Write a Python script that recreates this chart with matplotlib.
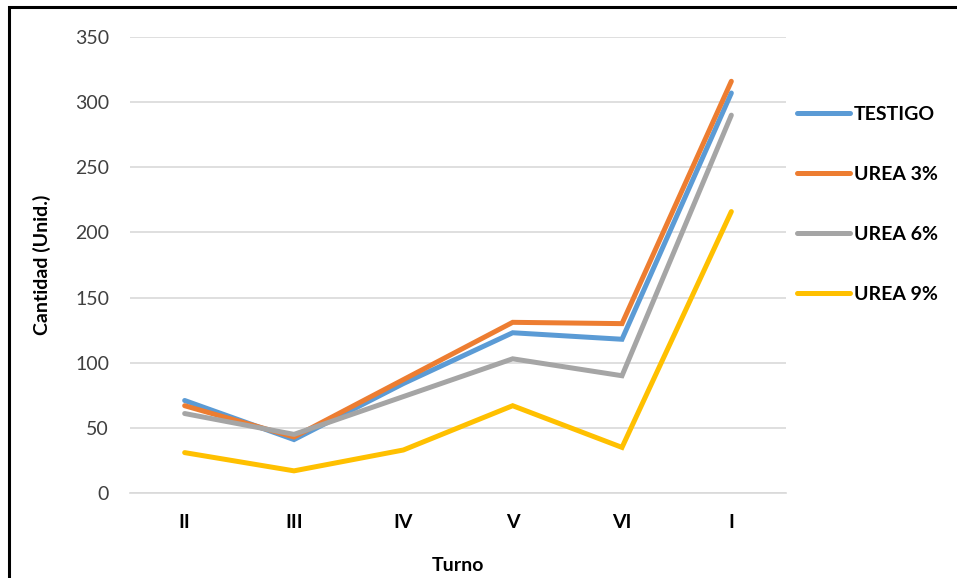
import matplotlib.pyplot as plt
from matplotlib.patches import Rectangle

plt.rcParams['font.family'] = ['Lato', 'DejaVu Sans']

turnos = ["II", "III", "IV", "V", "VI", "I"]
testigo = [71, 41, 84, 123, 118, 307]
urea_3 = [67, 43, 87, 131, 130, 316]
urea_6 = [61, 45, 74, 103, 90, 290]
urea_9 = [31, 17, 33, 67, 35, 216]

series = [
    ("TESTIGO", testigo, "#5B9BD5"),
    ("UREA 3%", urea_3, "#ED7D31"),
    ("UREA 6%", urea_6, "#A5A5A5"),
    ("UREA 9%", urea_9, "#FFC000"),
]

fig = plt.figure(figsize=(9.57, 5.78), dpi=100)
ax = fig.add_axes([130 / 957, 1 - 493 / 578, 656 / 957, 456 / 578])

x = list(range(len(turnos)))
for name, vals, color in series:
    ax.plot(x, vals, color=color, lw=3.6, label=name,
            solid_capstyle="round", solid_joinstyle="miter")

ax.set_xlim(-0.5, len(turnos) - 0.5)
ax.set_ylim(0, 350)
ax.set_yticks(range(0, 351, 50))
ax.set_xticks(x)
ax.set_xticklabels(turnos, fontweight="bold")
ax.tick_params(axis="both", length=0, labelsize=14, colors="#000000")
ax.tick_params(axis="x", pad=15)
ax.tick_params(axis="y", pad=15)
for lbl in ax.get_yticklabels():
    lbl.set_color("#404040")

ax.grid(axis="y", color="#D9D9D9", lw=1.2)
ax.set_axisbelow(True)
for s in ["top", "right", "left"]:
    ax.spines[s].set_visible(False)
ax.spines["bottom"].set_color("#D9D9D9")
ax.spines["bottom"].set_linewidth(1.2)

ax.set_xlabel("Turno", fontsize=14, fontweight="bold", labelpad=19)
ax.set_ylabel("Cantidad (Unid.)", fontsize=14, fontweight="bold", labelpad=17)

leg = fig.legend(loc="upper left", bbox_to_anchor=(779 / 957, 1 - 88 / 578),
                 frameon=False, handlelength=2.75, handletextpad=0.2,
                 labelspacing=2.22, prop={"size": 14, "weight": "bold"})

# outer frame of the chart image (only top and left visible)
fig.patches.append(Rectangle((9 / 957, -0.1), 1.2, 1 - 7.5 / 578 + 0.1,
                             transform=fig.transFigure, fill=False,
                             edgecolor="black", lw=2.2))

fig.savefig("out.png", dpi=100)
